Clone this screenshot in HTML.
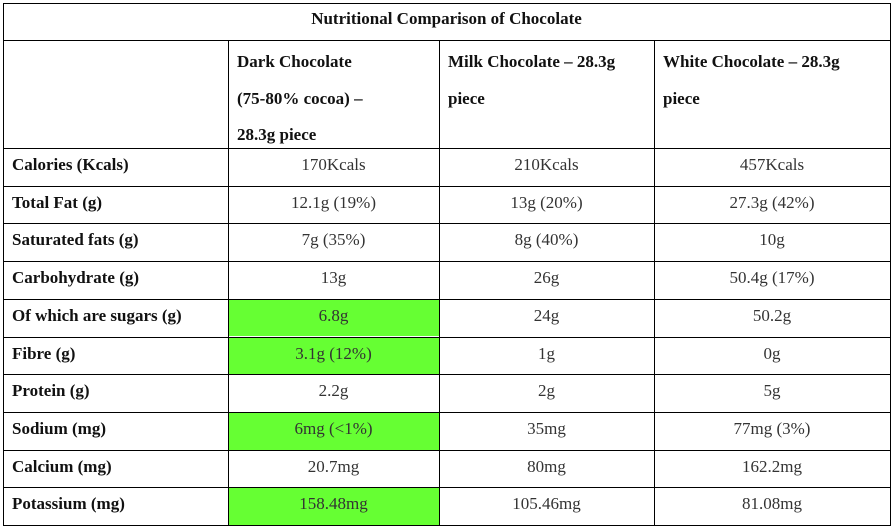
<!DOCTYPE html>
<html><head><meta charset="utf-8"><style>
body{margin:0;width:895px;height:529px;background:#fff;font-family:"Liberation Serif",serif;overflow:hidden}
#tbl{position:absolute;left:0;top:0;width:895px;height:529px}
.c{position:absolute;box-sizing:border-box;font-size:17px;color:#333}
.b{font-weight:bold;color:#111}
.l{position:absolute;background:#000}
</style></head><body>
<div id="tbl"></div>
<script>
const rowLabels=["Calories (Kcals)","Total Fat (g)","Saturated fats (g)","Carbohydrate (g)","Of which are sugars (g)","Fibre (g)","Protein (g)","Sodium (mg)","Calcium (mg)","Potassium (mg)"];
const dark=["170Kcals","12.1g (19%)","7g (35%)","13g","6.8g","3.1g (12%)","2.2g","6mg (<1%)","20.7mg","158.48mg"];
const milk=["210Kcals","13g (20%)","8g (40%)","26g","24g","1g","2g","35mg","80mg","105.46mg"];
const white=["457Kcals","27.3g (42%)","10g","50.4g (17%)","50.2g","0g","5g","77mg (3%)","162.2mg","81.08mg"];
const green=[4,5,7,9];
const X=[3,228,439,654,890], tableTop=3, titleB=40, headB=148, rh=37.7;
const tbl=document.getElementById('tbl');
function cell(x,y,w,h,html,cls,st,name){const d=document.createElement('div');d.className='c '+cls;d.style.cssText='left:'+x+'px;top:'+y+'px;width:'+w+'px;height:'+h+'px;'+st;d.innerHTML=html;


tbl.appendChild(d);return d;}
cell(3,tableTop,887,titleB-tableTop,"Nutritional Comparison of Chocolate","b","text-align:center;line-height:31px;","table-title");
const heads=["Dark Chocolate<br>(75-80% cocoa) –<br>28.3g piece","Milk Chocolate – 28.3g<br>piece","White Chocolate – 28.3g<br>piece"];
heads.forEach((h,i)=>cell(X[i+1],titleB,X[i+2]-X[i+1],headB-titleB,h,"b","padding:4px 0 0 9px;line-height:36.5px;","column-header"));
const cols=[dark,milk,white];
rowLabels.forEach((lab,r)=>{const y=headB+r*rh;
cell(X[0],y,X[1]-X[0],rh,lab,"b","padding-left:9px;line-height:34px;","row-label");
cols.forEach((col,c)=>{const bg=(c==0&&green.includes(r))?"background:#66ff33;":"";
cell(X[c+1],y,X[c+2]-X[c+1],rh,col[r].replace('<','&lt;'),"",bg+"text-align:center;line-height:34px;","value-cell");});});
function line(x,y,w,h){const d=document.createElement('div');d.className='l';d.style.cssText='left:'+x+'px;top:'+y+'px;width:'+w+'px;height:'+h+'px';


tbl.appendChild(d);}
const bottomY=headB+10*rh;
line(3,tableTop,888,1);line(3,titleB,888,1);line(3,headB,888,1);
for(let r=1;r<=10;r++)line(3,Math.round(headB+r*rh),888,1);
line(3,tableTop,1,bottomY-tableTop);line(890,tableTop,1,bottomY-tableTop+1);
for(let i=1;i<4;i++)line(X[i],titleB,1,bottomY-titleB);
</script>
</body></html>
